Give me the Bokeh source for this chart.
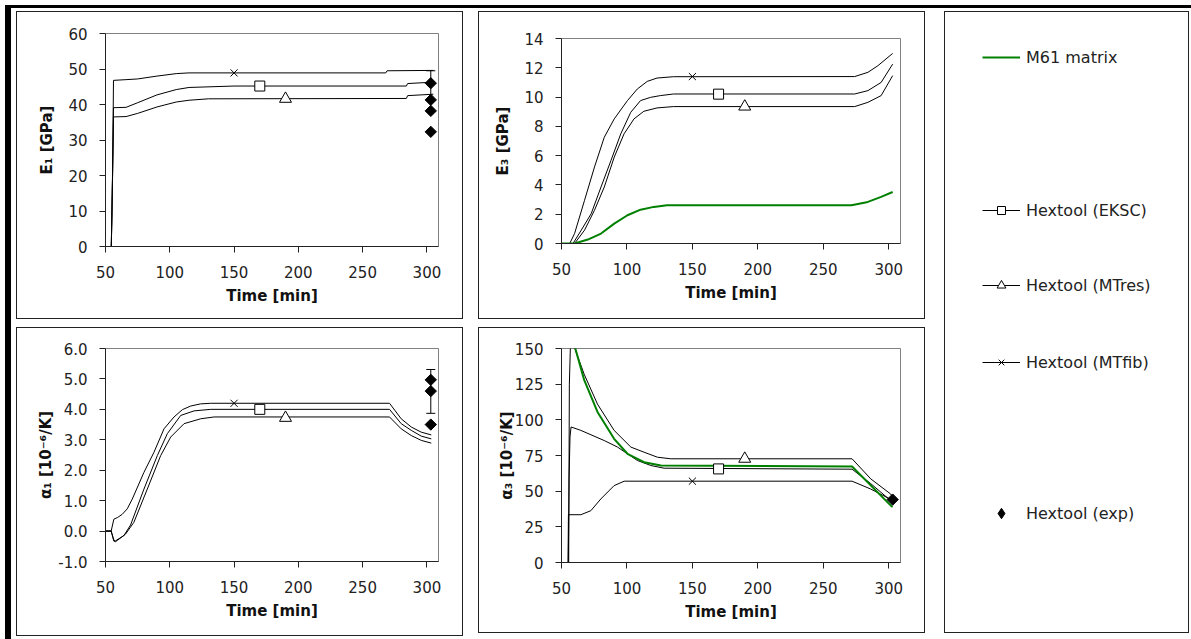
from bokeh.plotting import figure
from bokeh.layouts import row, column
from bokeh.models import (Range1d, FixedTicker, Whisker, TeeHead, ColumnDataSource,
                          Legend, LegendItem, PrintfTickFormatter, Spacer, Div)
from bokeh.embed import file_html
from bokeh.resources import INLINE

# ---------------- data ----------------
X_TICKS = [50, 100, 150, 200, 250, 300]

# E1 [GPa]
E1_MTFIB_T = [50, 54.5, 55, 55.8, 56.2, 66, 75, 90, 105, 115, 150, 268, 269, 305]
E1_MTFIB_V = [0, 0, 8, 30, 46.8, 47, 47.2, 48.0, 48.7, 48.9, 48.9, 48.9, 49.5, 49.6]
E1_EKSC_T = [50, 54.5, 55.5, 56.2, 66, 75, 90, 105, 115, 150, 284, 285, 305]
E1_EKSC_V = [0, 0, 20, 39.1, 39.2, 40.5, 42.7, 44.2, 44.8, 45.2, 45.2, 45.9, 46.3]
E1_MTRES_T = [50, 54.5, 55.5, 56.2, 66, 75, 90, 105, 115, 130, 284, 285, 305]
E1_MTRES_V = [0, 0, 20, 36.5, 36.6, 37.5, 39.3, 40.7, 41.2, 41.6, 41.7, 42.5, 42.9]
E1_MARK_T = [150, 170, 190]
E1_MARK_V = [48.9, 45.2, 41.6]
E1_EXP_T = [303, 303, 303, 303]
E1_EXP_V = [46.0, 41.3, 38.2, 32.3]
E1_ERR_LOW = [41.3]
E1_ERR_UP = [49.5]

# E3 [GPa]
E3_MTFIB_T = [50, 56.3, 60, 67.6, 75.2, 82.7, 90.3, 100.4, 107.9, 115.5, 123, 135.6, 274, 284.1, 291.7, 303]
E3_MTFIB_V = [0, 0, 0.68, 2.95, 5.22, 7.26, 8.51, 9.76, 10.55, 11.07, 11.3, 11.39, 11.4, 11.69, 12.14, 12.98]
E3_EKSC_T = [50, 58.8, 65.1, 72.7, 80.2, 87.8, 95.3, 102.9, 110.4, 118, 125.5, 135.6, 274, 284.1, 294.2, 303]
E3_EKSC_V = [0, 0, 0.91, 2.04, 3.86, 5.67, 7.49, 8.96, 9.76, 9.98, 10.1, 10.21, 10.21, 10.44, 11.0, 12.25]
E3_MTRES_T = [50, 60, 67.6, 75.2, 82.7, 90.3, 97.8, 105.4, 112.9, 123, 135.6, 274, 284.1, 294.2, 303]
E3_MTRES_V = [0, 0, 0.91, 2.27, 3.86, 5.9, 7.49, 8.51, 9.03, 9.26, 9.35, 9.35, 9.64, 10.1, 11.46]
E3_M61_T = [50, 60, 70.1, 80.2, 90.3, 100.4, 110.4, 120.5, 130.6, 271.6, 284.1, 294.2, 303]
E3_M61_V = [0, 0, 0.27, 0.68, 1.36, 1.93, 2.31, 2.5, 2.61, 2.61, 2.84, 3.18, 3.52]
E3_MARK_T = [150, 170, 190]
E3_MARK_V = [11.4, 10.2, 9.35]

# alpha1 [1e-6/K]
A1_MTFIB_T = [50, 54.4, 56.5, 59.5, 63, 66.9, 70.8, 79.9, 87.7, 95.5, 103.3, 109.8, 116.3, 124, 131.9, 270.9, 280, 287.8, 295.6, 303.4]
A1_MTFIB_V = [0, 0, 0.39, 0.45, 0.55, 0.73, 1.05, 1.93, 2.59, 3.36, 3.75, 3.99, 4.11, 4.18, 4.2, 4.2, 3.69, 3.42, 3.25, 3.16]
A1_EKSC_T = [50, 54.4, 56.5, 57.8, 64.3, 69.5, 79.9, 90.3, 98.1, 108.5, 118.9, 131.9, 270.9, 280, 287.8, 295.6, 303.4]
A1_EKSC_V = [0, 0, -0.3, -0.32, -0.15, 0.2, 1.38, 2.48, 3.2, 3.8, 3.95, 4.0, 4.0, 3.53, 3.31, 3.12, 3.03]
A1_MTRES_T = [50, 54.4, 56.5, 57.8, 65.6, 72.1, 82.5, 92.9, 100.7, 111.1, 124, 134.5, 270.9, 280, 287.8, 295.6, 303.4]
A1_MTRES_V = [0, 0, -0.33, -0.35, -0.1, 0.29, 1.38, 2.48, 3.09, 3.53, 3.69, 3.75, 3.75, 3.36, 3.14, 2.98, 2.89]
A1_MARK_T = [150, 170, 190]
A1_MARK_V = [4.2, 4.0, 3.72]
A1_EXP_T = [303, 303, 303]
A1_EXP_V = [4.97, 4.6, 3.5]
A1_ERR_LOW = [3.87]
A1_ERR_UP = [5.31]

# alpha3 [1e-6/K]
A3_MTFIB_T = [50, 55.0, 55.3, 64.8, 72.4, 80, 90.2, 97.9, 272, 286, 302, 303]
A3_MTFIB_V = [0, 0, 33.5, 33.5, 36.3, 44.5, 53.9, 57, 57, 51.6, 44, 43.5]
A3_EKSC_T = [50, 55.2, 55.8, 56.5, 57.3, 64.8, 82.6, 92.8, 100.4, 108, 118.2, 128.4, 272, 286, 302, 303]
A3_EKSC_V = [0, 0, 60, 88, 95, 92.6, 85.5, 80.9, 76.2, 71.5, 68, 66.1, 65.4, 55.5, 43, 42.2]
A3_MTRES_T = [50, 55.5, 56.0, 57, 67.3, 77.5, 90.2, 103, 113.1, 123.3, 133.5, 272, 286.3, 301.5, 303]
A3_MTRES_V = [0, 0, 125, 158, 132, 111, 92.6, 80.9, 77.3, 73.8, 72.7, 72.7, 58.6, 48, 46]
A3_M61_T = [57.5, 67.3, 77.5, 90.2, 100.4, 113.1, 125.9, 272, 302, 303]
A3_M61_V = [160, 128, 105.5, 86.7, 76.2, 70.3, 68, 67.3, 39.5, 39]
A3_MARK_T = [150, 170, 190]
A3_MARK_V = [57, 65.6, 72.7]
A3_EXP_T = [303]
A3_EXP_V = [44.1]

GREEN = "#008000"
FONT = "DejaVu Sans"
INK = "#222222"
# panel frame: an inset shadow on each plot element, seen through a transparent border area
BOX_STYLE = {"box-shadow": "inset 0px 0px 0px 1px #222222", "background-color": "white"}
DIAMOND_ANGLE = 0.785398  # squares turned 45 degrees read as the chart's diamonds


def make_fig(w, h, left, right, top, bottom, yr, yticks, ylabel, ystandoff, yfmt=None):
    p = figure(width=w, height=h, x_range=Range1d(50, 309), y_range=Range1d(*yr),
               output_backend="svg", toolbar_location=None,
               min_border_left=left, min_border_right=right,
               min_border_top=top, min_border_bottom=bottom)
    p.grid.visible = False
    p.outline_line_color = "#808080"
    p.background_fill_color = "white"
    p.border_fill_alpha = 0
    for ax in (p.xaxis[0], p.yaxis[0]):
        ax.axis_line_color = INK
        ax.major_tick_line_color = INK
        ax.major_tick_in = 0
        ax.major_tick_out = 6
        ax.minor_tick_line_color = None
        ax.major_label_text_font = FONT
        ax.major_label_text_font_size = "15px"
        ax.major_label_text_color = INK
        ax.axis_label_text_font = FONT
        ax.axis_label_text_font_style = "bold"
        ax.axis_label_text_font_size = "15px"
        ax.axis_label_text_color = "#111111"
    p.xaxis.ticker = FixedTicker(ticks=X_TICKS)
    p.xaxis.axis_label = "Time [min]"
    p.xaxis.major_label_standoff = 13
    p.xaxis.axis_label_standoff = 6
    p.yaxis.ticker = FixedTicker(ticks=yticks)
    p.yaxis.axis_label = ylabel
    p.yaxis.major_label_standoff = 12
    p.yaxis.axis_label_standoff = ystandoff
    if yfmt:
        p.yaxis.formatter = PrintfTickFormatter(format=yfmt)
    p.styles = BOX_STYLE
    return p


def add_models(p, fib, eksc, mtres, mark_t, mark_v, m61=None):
    for t, v in (fib, eksc, mtres):
        p.line(t, v, line_color="black", line_width=1)
    if m61 is not None:
        p.line(m61[0], m61[1], line_color=GREEN, line_width=2)
    p.scatter([mark_t[0]], [mark_v[0]], marker="x", size=10, line_color="black", line_width=1)
    p.scatter([mark_t[1]], [mark_v[1]], marker="square", size=10, fill_color="white",
              line_color="black", line_width=1)
    p.scatter([mark_t[2]], [mark_v[2]], marker="triangle", size=12, fill_color="white",
              line_color="black", line_width=1)


def add_exp(p, t, v, low=None, up=None, both_caps=True):
    if low is not None:
        src = ColumnDataSource(dict(base=t[:1], lower=low, upper=up))
        w = Whisker(source=src, base="base", lower="lower", upper="upper", dimension="height",
                    line_color="black", line_width=1,
                    upper_head=TeeHead(size=9, line_color="black", line_width=1),
                    lower_head=TeeHead(size=9, line_color="black", line_width=1) if both_caps else None)
        p.add_layout(w)
    p.scatter(t, v, marker="square", angle=DIAMOND_ANGLE, size=8, fill_color="black",
              line_color="black")


# panel 1: E1
p1 = make_fig(447, 308, 85, 24, 22, 73, (0, 60), [0, 10, 20, 30, 40, 50, 60], "E\u2081 [GPa]", 9)
add_models(p1, (E1_MTFIB_T, E1_MTFIB_V), (E1_EKSC_T, E1_EKSC_V), (E1_MTRES_T, E1_MTRES_V),
           E1_MARK_T, E1_MARK_V)
add_exp(p1, E1_EXP_T, E1_EXP_V, E1_ERR_LOW, E1_ERR_UP, both_caps=False)

# panel 2: E3
p2 = make_fig(447, 308, 79, 25, 27, 76, (0, 14), [0, 2, 4, 6, 8, 10, 12, 14], "E\u2083 [GPa]", 9)
add_models(p2, (E3_MTFIB_T, E3_MTFIB_V), (E3_EKSC_T, E3_EKSC_V), (E3_MTRES_T, E3_MTRES_V),
           E3_MARK_T, E3_MARK_V, m61=(E3_M61_T, E3_M61_V))

# panel 3: alpha1
p3 = make_fig(447, 309, 89, 25, 21, 75, (-1, 6), [-1, 0, 1, 2, 3, 4, 5, 6],
              "\u03b1\u2081 [10\u207b\u2076/K]", 0, yfmt="%.1f")
add_models(p3, (A1_MTFIB_T, A1_MTFIB_V), (A1_EKSC_T, A1_EKSC_V), (A1_MTRES_T, A1_MTRES_V),
           A1_MARK_T, A1_MARK_V)
add_exp(p3, A1_EXP_T, A1_EXP_V, A1_ERR_LOW, A1_ERR_UP, both_caps=True)

# panel 4: alpha3
p4 = make_fig(447, 306, 83, 25, 21, 71, (0, 150), [0, 25, 50, 75, 100, 125, 150],
              "\u03b1\u2083 [10\u207b\u2076/K]", -4)
add_models(p4, (A3_MTFIB_T, A3_MTFIB_V), (A3_EKSC_T, A3_EKSC_V), (A3_MTRES_T, A3_MTRES_V),
           A3_MARK_T, A3_MARK_V, m61=(A3_M61_T, A3_M61_V))
add_exp(p4, A3_EXP_T, A3_EXP_V)

# legend panel (renderers hold real series data but lie outside the visible range)
LEG_W, LEG_H = 245, 622
leg = figure(width=LEG_W, height=LEG_H, x_range=Range1d(1000, 1001), y_range=Range1d(0, 20),
             output_backend="svg", toolbar_location=None, min_border=0,
             x_axis_location=None, y_axis_location=None)
leg.grid.visible = False
leg.outline_line_color = None
leg.border_fill_alpha = 0
leg.background_fill_alpha = 0
leg.styles = BOX_STYLE

r_m61 = leg.line(E3_M61_T, E3_M61_V, line_color=GREEN, line_width=2)
r_eksc_l = leg.line(E3_EKSC_T, E3_EKSC_V, line_color="black", line_width=1)
r_eksc_m = leg.scatter(E3_MARK_T[1:2], E3_MARK_V[1:2], marker="square", fill_color="white",
                       line_color="black", line_width=1)
r_mtres_l = leg.line(E3_MTRES_T, E3_MTRES_V, line_color="black", line_width=1)
r_mtres_m = leg.scatter(E3_MARK_T[2:3], E3_MARK_V[2:3], marker="triangle", fill_color="white",
                        line_color="black", line_width=1)
r_fib_l = leg.line(E3_MTFIB_T, E3_MTFIB_V, line_color="black", line_width=1)
r_fib_m = leg.scatter(E3_MARK_T[0:1], E3_MARK_V[0:1], marker="x", line_color="black", line_width=1)
r_exp = leg.scatter(E1_EXP_T, E1_EXP_V, marker="diamond", fill_color="black", line_color="black")

LEGEND_ENTRIES = [
    ("M61 matrix", [r_m61], 566, 20),
    ("Hextool (EKSC)", [r_eksc_l, r_eksc_m], 413, 20),
    ("Hextool (MTres)", [r_mtres_l, r_mtres_m], 337, 22),
    ("Hextool (MTfib)", [r_fib_l, r_fib_m], 261, 20),
    ("Hextool (exp)", [r_exp], 107, 26),
]
for label, rends, vy, gh in LEGEND_ENTRIES:
    lg = Legend(items=[LegendItem(label=label, renderers=rends)], location=(38, vy),
                padding=0, margin=0, spacing=0, border_line_color=None,
                background_fill_alpha=0, glyph_width=38, glyph_height=gh, label_height=gh,
                label_standoff=6, label_text_font=FONT, label_text_font_size="16px",
                label_text_color=INK)
    leg.add_layout(lg)

# black strips along the page's left and top edges
strip_top = Div(text="", styles={"position": "fixed", "left": "0px", "top": "0px",
                                 "width": "1191px", "height": "3px", "background-color": "black"})
strip_left = Div(text="", styles={"position": "fixed", "left": "0px", "top": "0px",
                                  "width": "6px", "height": "639px", "background-color": "black"})

col1 = column(p1, Spacer(height=8), p3)
col2 = column(p2, Spacer(height=8), p4)
main = row(Spacer(width=16), col1, Spacer(width=15), col2, Spacer(width=19), leg)
root = column(Spacer(height=11), main, strip_top, strip_left)

open("out.html", "w").write(file_html(root, INLINE))
